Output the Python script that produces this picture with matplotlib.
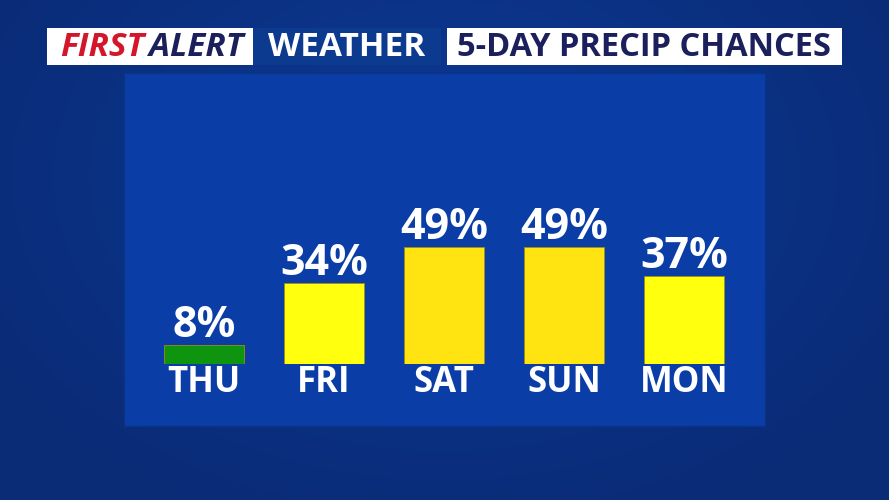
import numpy as np
import matplotlib
matplotlib.use("Agg")
import matplotlib.pyplot as plt
from matplotlib.patches import Rectangle

days = ["THU", "FRI", "SAT", "SUN", "MON"]
chances = [8, 34, 49, 49, 37]

W, H = 889, 500
FONT = ["Open Sans", "DejaVu Sans"]


def bar_color(v):
    # green for low chances, yellow tones above
    if v < 10:
        return "#0f9410"
    elif v >= 45:
        return "#ffe412"
    return "#ffff0e"


def px(x, y):
    # pixel coords (from top-left) -> figure fraction
    return x / W, 1 - y / H


fig = plt.figure(figsize=(W / 100, H / 100), dpi=100)

# background: blue, a bit lighter toward the middle
bg = fig.add_axes([0, 0, 1, 1])
yy, xx = np.mgrid[0:H, 0:W]
r = np.sqrt(((xx - W * 0.5) / (W * 0.6)) ** 2 + ((yy - H * 0.35) / (H * 0.75)) ** 2)
r = np.clip(r, 0, 1)
c0 = np.array([0x0c, 0x3a, 0x96]) / 255
c1 = np.array([0x0a, 0x2b, 0x76]) / 255
img = c0[None, None, :] * (1 - r[..., None]) + c1[None, None, :] * r[..., None]
bg.imshow(img, extent=[0, W, H, 0], aspect="auto")
bg.set_xlim(0, W)
bg.set_ylim(H, 0)
bg.axis("off")

# inner panel
bg.add_patch(Rectangle((124, 73), 641, 353, facecolor="#0a3ea6", edgecolor="#0a3488", lw=1))

# title boxes
bg.add_patch(Rectangle((47, 28), 206, 37, facecolor="white", edgecolor="none"))
bg.add_patch(Rectangle((253, 28), 188, 37, facecolor="#0b3a8e", edgecolor="none"))
bg.add_patch(Rectangle((447, 28), 395, 37, facecolor="white", edgecolor="none"))
bg.text(144, 47, "FIRST", color="#d4162b", fontsize=24, fontweight="bold", style="italic",
        family=FONT, ha="right", va="center")
bg.text(149, 47, "ALERT", color="#1b1f5c", fontsize=24, fontweight="bold", style="italic",
        family=FONT, ha="left", va="center")
bg.text(347, 47, "WEATHER", color="white", fontsize=24, fontweight="bold",
        family=FONT, ha="center", va="center")
bg.text(644, 47, "5-DAY PRECIP CHANCES", color="#1b1f5c", fontsize=23.5, fontweight="bold",
        family=FONT, ha="center", va="center")

# bar chart area
x0, y0 = px(124, 364)
x1, y1 = px(765, 73)
ax = fig.add_axes([x0, y0, x1 - x0, y1 - y0])
ax.patch.set_alpha(0)
x = np.arange(len(days))
colors = [bar_color(v) for v in chances]
ax.bar(x, chances, width=0.667, color=colors, edgecolor="#9c8f10", linewidth=0.6)
for xi, v in zip(x, chances):
    ax.text(xi, v + 3.4, f"{v}%", color="white", fontsize=31, fontweight="bold",
            family=FONT, ha="center", va="baseline")
ax.set_xlim(-0.667, 4.675)
ax.set_ylim(0, 291 / 2.385)
ax.set_xticks(x, days)
ax.tick_params(axis="x", length=0, pad=1, labelcolor="white", labelsize=25)
for lab in ax.get_xticklabels():
    lab.set_fontweight("bold")
    lab.set_family(FONT)
ax.set_yticks([])
for s in ax.spines.values():
    s.set_visible(False)

fig.savefig("out.png", dpi=100)
